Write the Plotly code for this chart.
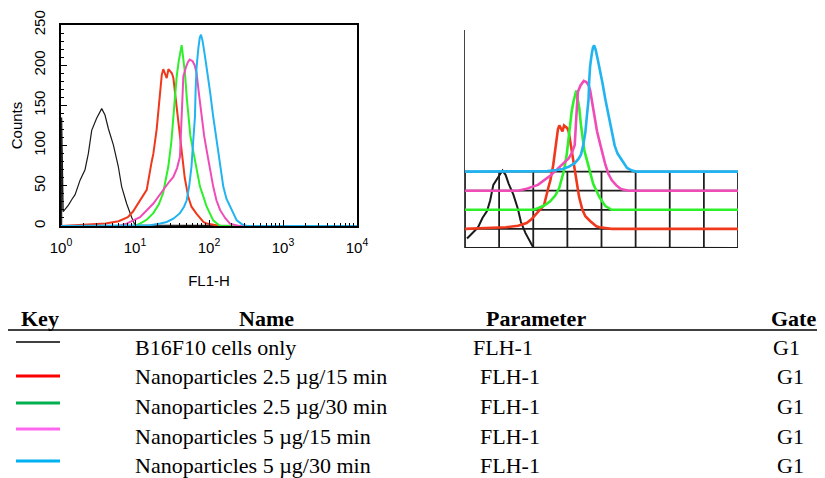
import plotly.graph_objects as go

PAGE_W, PAGE_H = 825, 478
OFF = 8  # default page margin of the html body
W, H = PAGE_W - OFF, PAGE_H - OFF

# ---------------- data ----------------
series_names = ["B16F10 cells only", "Nanoparticles 2.5 µg/15 min", "Nanoparticles 2.5 µg/30 min",
                "Nanoparticles 5 µg/15 min", "Nanoparticles 5 µg/30 min"]
parameters = ["FLH-1", "FLH-1", "FLH-1", "FLH-1", "FLH-1"]
gates = ["G1", "G1", "G1", "G1", "G1"]

black_x = [1.02, 1.02, 1.07, 1.26, 1.4, 1.55, 1.81, 2.11, 2.34, 2.6, 3.03, 3.3, 3.55, 3.93, 4.37, 5.1, 5.95, 6.6, 7.7, 9.0, 10, 10000]
black_y = [0, 135, 18, 26, 33, 39, 57, 70, 90, 119, 134, 140, 146, 138, 121, 101, 74, 49, 28, 11, 1, 0]

red_x = [1, 1.5, 2.5, 4, 6, 8, 9.4, 11.5, 14.4, 16.8, 17.7, 19.6, 21.8, 23, 24.1, 25.5, 26.8, 28.3, 29.7, 31.5,
         33, 36.6, 38.5, 40.5, 45, 47, 52.5, 58, 68, 84, 93, 141, 10000]
red_y = [0, 1, 2, 3, 6, 11, 18, 30, 45, 80, 90, 120, 160, 188, 195, 190, 184, 195, 192, 190,
         184, 148, 126, 107, 70, 60, 36, 24, 15, 5, 3, 0, 0]

green_x = [1, 10, 11.7, 14.5, 17.7, 21, 24, 28.2, 31, 33, 35, 36.6, 39, 41, 42.7, 44, 47.4, 50, 52.5, 56,
           61, 68, 75.5, 85, 93, 114, 141, 10000]
green_y = [0, 0, 3, 8, 16, 27, 41, 74, 105, 136, 162, 186, 205, 218, 225, 215, 190, 160, 136, 112,
           94, 70, 49, 35, 24, 7, 0, 0]

pink_x = [1, 6, 7.7, 11.7, 17.7, 24, 29, 33, 37, 40.5, 42.8, 45, 49, 52, 55, 60, 64, 68, 73, 79,
          86, 93, 103, 114, 126, 141, 165, 192, 250, 10000]
pink_y = [0, 0, 3, 11, 28, 45, 55, 61, 72, 86, 140, 186, 198, 204, 207, 205, 200, 190, 165, 136,
          112, 94, 70, 49, 32, 20, 10, 3, 0, 0]

blue_x = [1, 16, 22, 26.8, 33, 40.5, 46, 50, 54, 58, 61, 64.6, 66, 68, 72, 75, 78, 82, 88, 93,
          103, 114, 124, 134, 145, 156, 172, 192, 215, 237, 280, 323, 10000]
blue_y = [0, 1, 3, 5, 9, 16, 24, 32, 50, 74, 104, 136, 170, 198, 222, 234, 238, 230, 212, 198,
          168, 136, 114, 94, 70, 49, 34, 24, 14, 7, 2, 0, 0]

x_tick_vals = [1, 10, 100, 1000, 10000]
x_tick_text = ["10<sup>0</sup>", "10<sup>1</sup>", "10<sup>2</sup>", "10<sup>3</sup>", "10<sup>4</sup>"]
y_tick_vals = [0, 50, 100, 150, 200, 250]

# ---------------- styles ----------------
curve_colors = ["#1a1a1a", "#f0381c", "#2ef02a", "#f04cb8", "#22b4f0"]
key_colors = ["#000000", "#ff0000", "#00b050", "#ff66ee", "#00b0f0"]
left_widths = [1.2, 2.0, 2.0, 2.0, 2.0]
right_widths = [2.0, 2.6, 2.6, 2.6, 2.6]
OFFSET_STEP = 36  # counts between stacked baselines in the right panel

xs = [black_x, red_x, green_x, pink_x, blue_x]
ys = [black_y, red_y, green_y, pink_y, blue_y]

fig = go.Figure()

# left panel
for i in range(5):
    fig.add_trace(go.Scatter(x=xs[i], y=ys[i], mode="lines", xaxis="x", yaxis="y",
                             line=dict(color=curve_colors[i], width=left_widths[i]),
                             showlegend=False, hoverinfo="skip"))

# right panel grid
offsets = [i * OFFSET_STEP for i in range(5)]
grid_x = [10 ** (k / 2) for k in range(9)]
gx, gy = [], []
for v in grid_x:
    gx += [v, v, None]
    gy += [0, offsets[-1], None]
for o in offsets:
    gx += [1, 10000, None]
    gy += [o, o, None]
fig.add_trace(go.Scatter(x=gx, y=gy, mode="lines", xaxis="x2", yaxis="y2",
                         line=dict(color="#1e1e1e", width=1.8), showlegend=False, hoverinfo="skip"))

# right panel stacked curves
for i in range(5):
    start = 2 if i == 0 else 0
    fig.add_trace(go.Scatter(x=xs[i][start:], y=[v + offsets[i] for v in ys[i][start:]], mode="lines",
                             xaxis="x2", yaxis="y2",
                             line=dict(color=curve_colors[i], width=right_widths[i]),
                             showlegend=False, hoverinfo="skip"))

def px_x(p):
    return (p - OFF) / W

def px_y(p):
    return 1 - (p - OFF) / H

sans = "Liberation Sans"
serif = "Liberation Serif"

fig.update_layout(
    width=W, height=H, margin=dict(l=0, r=0, t=0, b=0, autoexpand=False),
    paper_bgcolor="white", plot_bgcolor="white",
    xaxis=dict(type="log", range=[0, 4], domain=[px_x(61), px_x(357)], anchor="y", automargin=False,
               tickmode="array", tickvals=x_tick_vals, ticktext=x_tick_text,
               ticks="inside", ticklen=6, tickcolor="black", tickwidth=1,
               minor=dict(tickmode="array",
                          tickvals=[m * 10 ** k for k in range(4) for m in range(2, 10)],
                          ticks="inside", ticklen=3, tickcolor="black", showgrid=False),
               showline=True, linecolor="black", linewidth=1.5, mirror=True,
               showgrid=False, zeroline=False, ticklabelstandoff=7,
               tickfont=dict(family=sans, size=15, color="black"),
               title=dict(text="FL1-H", font=dict(family=sans, size=15, color="black"), standoff=21)),
    yaxis=dict(range=[0, 250], domain=[px_y(226), px_y(25)], anchor="x", automargin=False,
               tickmode="array", tickvals=y_tick_vals, tickangle=-90,
               ticks="inside", ticklen=6, tickcolor="black",
               minor=dict(dtick=10, ticks="inside", ticklen=3, tickcolor="black", showgrid=False),
               showline=True, linecolor="black", linewidth=1.5, mirror=True,
               showgrid=False, zeroline=False, ticklabelstandoff=8,
               tickfont=dict(family=sans, size=15, color="black"),
               title=dict(text="Counts", font=dict(family=sans, size=15, color="black"), standoff=10)),
    xaxis2=dict(type="log", range=[0, 4], domain=[px_x(465), px_x(738)], anchor="y2", automargin=False,
                showticklabels=False, ticks="", showgrid=False, zeroline=False, showline=False),
    yaxis2=dict(range=[0, 411], domain=[px_y(248), px_y(30)], anchor="x2", automargin=False,
                showticklabels=False, ticks="", showgrid=False, zeroline=False,
                showline=True, linecolor="#444444", linewidth=1),
)

# ---------------- table ----------------
header_y = 318
row_y0, row_dy = 347, 29.7
FS = 22
anns = []
headers = [("Key", 40), ("Name", 266), ("Parameter", 536), ("Gate", 793)]
for t, xc in headers:
    anns.append(dict(x=px_x(xc), y=px_y(header_y), xref="paper", yref="paper", text="<b>%s</b>" % t,
                     showarrow=False, xanchor="center", yanchor="middle",
                     font=dict(family=serif, size=FS, color="black")))
param_x = [503, 510, 510, 510, 510]
gate_x = [786, 790, 790, 790, 790]
shapes = [dict(type="line", xref="paper", yref="paper", x0=0, x1=1,
               y0=px_y(330), y1=px_y(330), line=dict(color="black", width=1.5))]
key_y = [342, 376, 403, 429, 461]
for i in range(5):
    yy = row_y0 + i * row_dy
    anns.append(dict(x=px_x(133), y=px_y(yy), xref="paper", yref="paper", text=series_names[i],
                     showarrow=False, xanchor="left", yanchor="middle",
                     font=dict(family=serif, size=FS, color="black")))
    anns.append(dict(x=px_x(param_x[i]), y=px_y(yy), xref="paper", yref="paper", text=parameters[i],
                     showarrow=False, xanchor="center", yanchor="middle",
                     font=dict(family=serif, size=FS, color="black")))
    anns.append(dict(x=px_x(gate_x[i]), y=px_y(yy), xref="paper", yref="paper", text=gates[i],
                     showarrow=False, xanchor="center", yanchor="middle",
                     font=dict(family=serif, size=FS, color="black")))
    shapes.append(dict(type="line", xref="paper", yref="paper", x0=px_x(16), x1=px_x(60),
                       y0=px_y(key_y[i]), y1=px_y(key_y[i]),
                       line=dict(color=key_colors[i], width=1.3 if i == 0 else 3)))

fig.update_layout(annotations=anns, shapes=shapes)

fig.write_html("out.html")
